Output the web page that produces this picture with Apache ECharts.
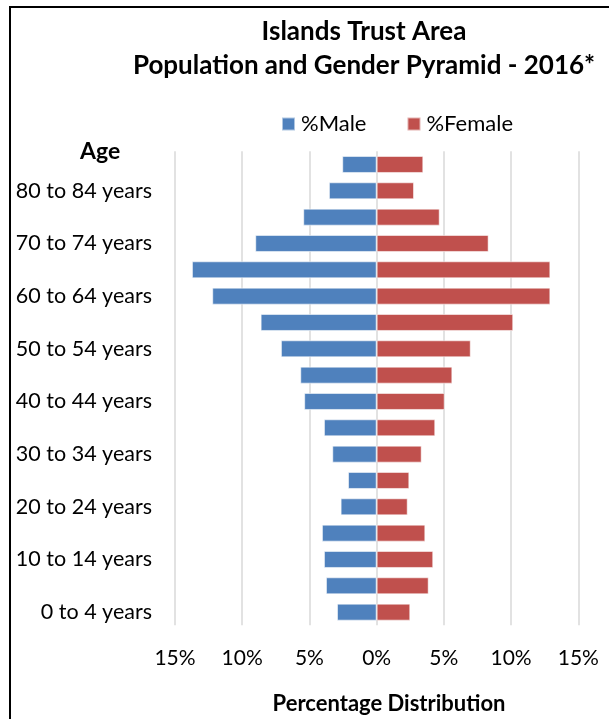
<!DOCTYPE html>
<html>
<head>
<meta charset="utf-8">
<script src="https://cdn.jsdelivr.net/npm/echarts@6/dist/echarts.min.js"></script>
<style>
html,body{margin:0;padding:0;background:#fff;}
#chart{width:609px;height:719px;}
</style>
</head>
<body>
<div id="chart"></div>
<script>
const ageGroups = ["0 to 4 years","5 to 9 years","10 to 14 years","15 to 19 years","20 to 24 years","25 to 29 years","30 to 34 years","35 to 39 years","40 to 44 years","45 to 49 years","50 to 54 years","55 to 59 years","60 to 64 years","65 to 69 years","70 to 74 years","75 to 79 years","80 to 84 years","85 years and over"];
const malePct = [2.95,3.77,3.92,4.07,2.68,2.13,3.30,3.92,5.39,5.68,7.12,8.63,12.23,13.74,9.03,5.46,3.55,2.56];
const femalePct = [2.50,3.87,4.21,3.62,2.31,2.43,3.35,4.36,5.06,5.63,7.00,10.16,12.92,12.92,8.33,4.69,2.78,3.47];
const xTicks = {min:-15, max:15, interval:5};

const FONT = 'Lato, "Open Sans", sans-serif';
const chart = echarts.init(document.getElementById('chart'), null, {renderer:'canvas'});
chart.setOption({
  backgroundColor:'#fff',
  animation:false,
  title:{
    text:'Islands Trust Area\nPopulation and Gender Pyramid - 2016*',
    left:359, textAlign:'center', top:10,
    textStyle:{fontFamily:FONT, fontWeight:'bold', fontSize:26, lineHeight:34, color:'#000'}
  },
  legend:{
    data:['%Male','%Female'],
    left:281, top:113, padding:0,
    itemWidth:13, itemHeight:13, itemGap:40,
    icon:'rect',
    textStyle:{fontFamily:FONT, fontSize:22, color:'#000', padding:[0,0,0,1]}
  },
  grid:{left:175, right:30.7, top:151.3, height:474, containLabel:false},
  xAxis:{
    type:'value', min:xTicks.min, max:xTicks.max, interval:xTicks.interval,
    axisLine:{show:false}, axisTick:{show:false},
    splitLine:{show:true, lineStyle:{color:'#d9d9d9', width:1.5}},
    axisLabel:{margin:22, fontFamily:FONT, fontSize:21, color:'#000',
      formatter:v => Math.abs(v) + '%'}
  },
  yAxis:{
    type:'category', data:ageGroups,
    axisLine:{show:false}, axisTick:{show:false},
    axisLabel:{interval:1, margin:23, fontFamily:FONT, fontSize:21.5, color:'#000'}
  },
  series:[
    {name:'%Male', type:'bar', data:malePct.map(v=>-v), barWidth:17, barGap:'-100%',
      itemStyle:{color:'#4F81BD', borderColor:'rgba(255,255,255,0.55)', borderWidth:1}},
    {name:'%Female', type:'bar', data:femalePct, barWidth:17,
      itemStyle:{color:'#C0504D', borderColor:'rgba(255,255,255,0.55)', borderWidth:1}}
  ],
  graphic:[
    {type:'rect', shape:{x:10, y:7, width:700, height:800}, style:{fill:'none', stroke:'#000', lineWidth:2}, silent:true},
    {type:'text', x:80, y:152, style:{text:'Age', fontFamily:FONT, fontWeight:'bold', fontSize:23, fill:'#000', verticalAlign:'middle'}},
    {type:'text', x:389, y:704, style:{text:'Percentage Distribution', fontFamily:FONT, fontWeight:'bold', fontSize:22, fill:'#000', align:'center', verticalAlign:'middle'}}
  ]
});
</script>
</body>
</html>
